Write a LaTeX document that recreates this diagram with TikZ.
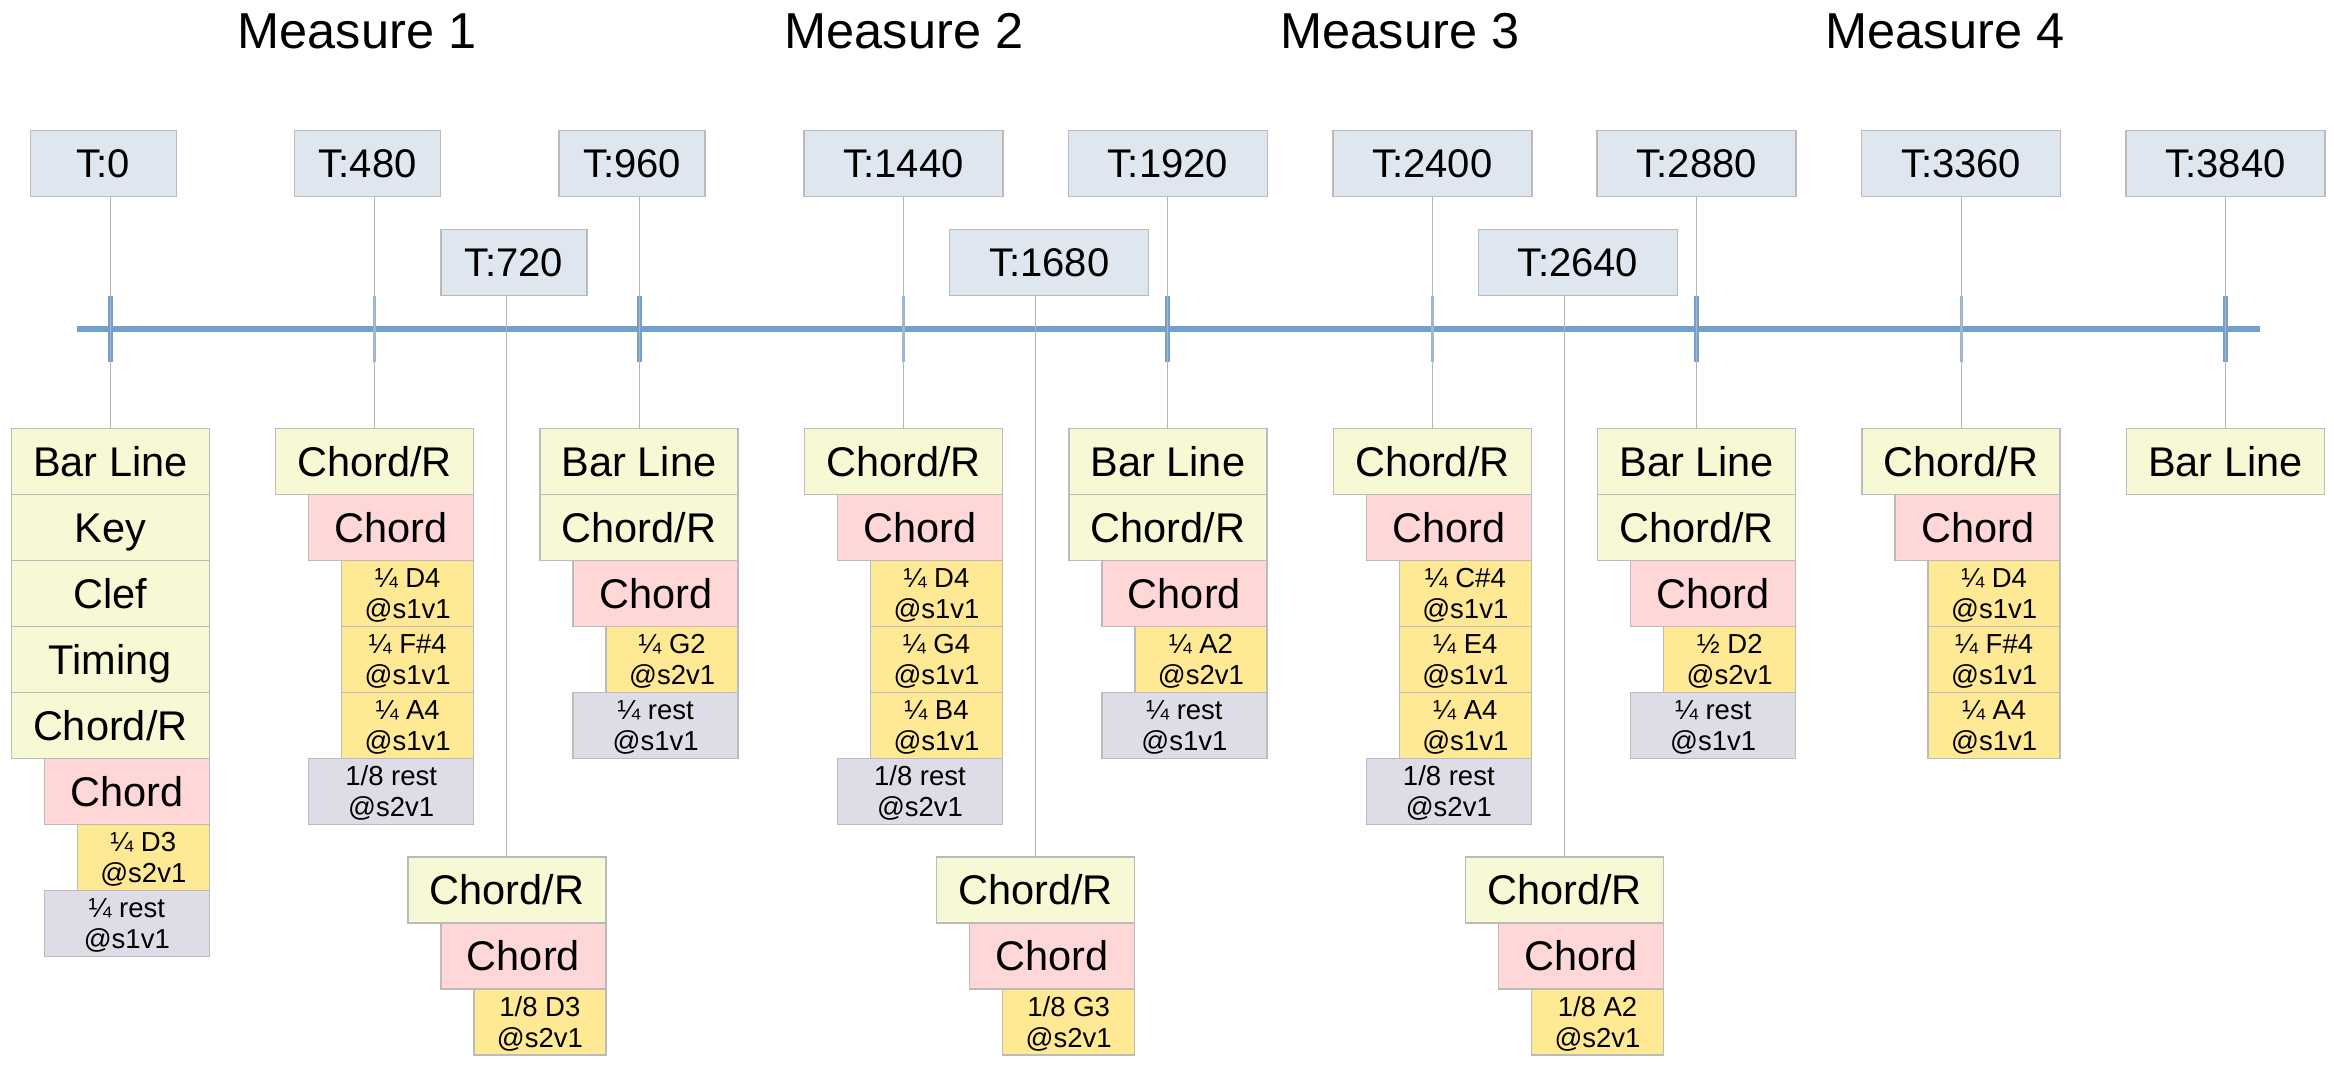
\documentclass[tikz,border=0pt]{standalone}
\usepackage{fontspec}
\setmainfont{Liberation Sans}
\definecolor{tbfill}{HTML}{DEE6EF}
\definecolor{ctrlfill}{HTML}{F6F9D4}
\definecolor{chordfill}{HTML}{FFD7D7}
\definecolor{notefill}{HTML}{FFE994}
\definecolor{restfill}{HTML}{DEDCE6}
\definecolor{bordergray}{HTML}{BBBBBB}
\definecolor{conngray}{HTML}{B5B5B5}
\definecolor{lineblue}{HTML}{729FCF}
\newcommand\one[1]{\makebox[0pt]{\raisebox{-14.8pt}[0pt][0pt]{#1}}}
\newcommand\tlab[1]{\makebox[0pt]{\raisebox{-14.3pt}[0pt][0pt]{#1}}}
\newcommand\two[2]{\makebox[0pt]{\raisebox{6pt}[0pt][0pt]{#1}}\makebox[0pt]{\raisebox{-25pt}[0pt][0pt]{#2}}}
\newcommand\cell[6]{\node[#2, minimum width={198pt-#4pt}] (#1) at ({#3+#4/2},{#5}) {#6};}
\begin{document}
\begin{tikzpicture}[x=1pt,y=-1pt,
  boxbase/.style={draw=bordergray, line width=1.5pt, inner sep=0pt, outer sep=0pt,
    minimum height=66pt, text height=0pt, text depth=0pt},
  big/.style={font=\fontsize{41.5pt}{50pt}\selectfont},
  tfont/.style={font=\fontsize{40pt}{48pt}\selectfont},
  small/.style={font=\fontsize{27.5pt}{31pt}\selectfont},
  tbox/.style={boxbase, tfont, fill=tbfill},
  ctrl/.style={boxbase, big, fill=ctrlfill},
  chord/.style={boxbase, big, fill=chordfill},
  note/.style={boxbase, small, fill=notefill},
  rest/.style={boxbase, small, fill=restfill},
  measure/.style={font=\fontsize{50.5pt}{60pt}\selectfont, anchor=base, inner sep=0pt},
  conn/.style={draw=conngray, line width=1.1pt},
  timeline/.style={draw=lineblue, line width=5.3pt},
  barticks/.style={draw=lineblue, line width=5pt},
  beatticks/.style={draw=lineblue!75!white, line width=3pt}
]
\useasboundingbox (0,0) rectangle (2334,1070);

% measure titles
\node[measure] (m1) at (357,48.5) {Measure 1};
\node[measure] (m2) at (904,48.5) {Measure 2};
\node[measure] (m3) at (1400,48.5) {Measure 3};
\node[measure] (m4) at (1945,48.5) {Measure 4};

% time boxes
\node[tbox, minimum width=146pt] (t0)    at (103.3,163.5) {\tlab{T:0}};
\node[tbox, minimum width=146pt] (t480)  at (367.7,163.5) {\tlab{T:480}};
\node[tbox, minimum width=146pt] (t960)  at (632.1,163.5) {\tlab{T:960}};
\node[tbox, minimum width=199pt] (t1440) at (903.5,163.5) {\tlab{T:1440}};
\node[tbox, minimum width=199pt] (t1920) at (1167.9,163.5) {\tlab{T:1920}};
\node[tbox, minimum width=199pt] (t2400) at (1432.3,163.5) {\tlab{T:2400}};
\node[tbox, minimum width=199pt] (t2880) at (1696.7,163.5) {\tlab{T:2880}};
\node[tbox, minimum width=199pt] (t3360) at (1961.1,163.5) {\tlab{T:3360}};
\node[tbox, minimum width=199pt] (t3840) at (2225.5,163.5) {\tlab{T:3840}};
\node[tbox, minimum width=146pt] (t720)  at (513.9,262.3) {\tlab{T:720}};
\node[tbox, minimum width=199pt] (t1680) at (1049.2,262.3) {\tlab{T:1680}};
\node[tbox, minimum width=199pt] (t2640) at (1578.0,262.3) {\tlab{T:2640}};

% timeline
\draw[timeline] (77,329) -- (2260,329);
\foreach \c in {110.3,639.1,1167.9,1696.7,2225.5} \draw[barticks] (\c,296) -- (\c,362);
\foreach \c in {374.7,903.5,1432.3,1961.1} \draw[beatticks] (\c,296) -- (\c,362);

% T:0
\cell{s0a}{ctrl}{110.3}{0}{461.5}{\one{Bar Line}}
\cell{s0b}{ctrl}{110.3}{0}{527.5}{\one{Key}}
\cell{s0c}{ctrl}{110.3}{0}{593.5}{\one{Clef}}
\cell{s0d}{ctrl}{110.3}{0}{659.5}{\one{Timing}}
\cell{s0e}{ctrl}{110.3}{0}{725.5}{\one{Chord/R}}
\cell{s0f}{chord}{110.3}{33}{791.5}{\one{Chord}}
\cell{s0g}{note}{110.3}{66}{857.5}{\two{¼ D3}{@s2v1}}
\cell{s0h}{rest}{110.3}{33}{923.5}{\two{¼ rest}{@s1v1}}
% T:480
\cell{s480a}{ctrl}{374.7}{0}{461.5}{\one{Chord/R}}
\cell{s480b}{chord}{374.7}{33}{527.5}{\one{Chord}}
\cell{s480c}{note}{374.7}{66}{593.5}{\two{¼ D4}{@s1v1}}
\cell{s480d}{note}{374.7}{66}{659.5}{\two{¼ F\#4}{@s1v1}}
\cell{s480e}{note}{374.7}{66}{725.5}{\two{¼ A4}{@s1v1}}
\cell{s480f}{rest}{374.7}{33}{791.5}{\two{1/8 rest}{@s2v1}}
% T:720
\cell{s720a}{ctrl}{506.9}{0}{890}{\one{Chord/R}}
\cell{s720b}{chord}{506.9}{33}{956}{\one{Chord}}
\cell{s720c}{note}{506.9}{66}{1022}{\two{1/8 D3}{@s2v1}}
% T:960
\cell{s960a}{ctrl}{639.1}{0}{461.5}{\one{Bar Line}}
\cell{s960b}{ctrl}{639.1}{0}{527.5}{\one{Chord/R}}
\cell{s960c}{chord}{639.1}{33}{593.5}{\one{Chord}}
\cell{s960d}{note}{639.1}{66}{659.5}{\two{¼ G2}{@s2v1}}
\cell{s960e}{rest}{639.1}{33}{725.5}{\two{¼ rest}{@s1v1}}
% T:1440
\cell{s1440a}{ctrl}{903.5}{0}{461.5}{\one{Chord/R}}
\cell{s1440b}{chord}{903.5}{33}{527.5}{\one{Chord}}
\cell{s1440c}{note}{903.5}{66}{593.5}{\two{¼ D4}{@s1v1}}
\cell{s1440d}{note}{903.5}{66}{659.5}{\two{¼ G4}{@s1v1}}
\cell{s1440e}{note}{903.5}{66}{725.5}{\two{¼ B4}{@s1v1}}
\cell{s1440f}{rest}{903.5}{33}{791.5}{\two{1/8 rest}{@s2v1}}
% T:1680
\cell{s1680a}{ctrl}{1035.7}{0}{890}{\one{Chord/R}}
\cell{s1680b}{chord}{1035.7}{33}{956}{\one{Chord}}
\cell{s1680c}{note}{1035.7}{66}{1022}{\two{1/8 G3}{@s2v1}}
% T:1920
\cell{s1920a}{ctrl}{1167.9}{0}{461.5}{\one{Bar Line}}
\cell{s1920b}{ctrl}{1167.9}{0}{527.5}{\one{Chord/R}}
\cell{s1920c}{chord}{1167.9}{33}{593.5}{\one{Chord}}
\cell{s1920d}{note}{1167.9}{66}{659.5}{\two{¼ A2}{@s2v1}}
\cell{s1920e}{rest}{1167.9}{33}{725.5}{\two{¼ rest}{@s1v1}}
% T:2400
\cell{s2400a}{ctrl}{1432.3}{0}{461.5}{\one{Chord/R}}
\cell{s2400b}{chord}{1432.3}{33}{527.5}{\one{Chord}}
\cell{s2400c}{note}{1432.3}{66}{593.5}{\two{¼ C\#4}{@s1v1}}
\cell{s2400d}{note}{1432.3}{66}{659.5}{\two{¼ E4}{@s1v1}}
\cell{s2400e}{note}{1432.3}{66}{725.5}{\two{¼ A4}{@s1v1}}
\cell{s2400f}{rest}{1432.3}{33}{791.5}{\two{1/8 rest}{@s2v1}}
% T:2640
\cell{s2640a}{ctrl}{1564.5}{0}{890}{\one{Chord/R}}
\cell{s2640b}{chord}{1564.5}{33}{956}{\one{Chord}}
\cell{s2640c}{note}{1564.5}{66}{1022}{\two{1/8 A2}{@s2v1}}
% T:2880
\cell{s2880a}{ctrl}{1696.7}{0}{461.5}{\one{Bar Line}}
\cell{s2880b}{ctrl}{1696.7}{0}{527.5}{\one{Chord/R}}
\cell{s2880c}{chord}{1696.7}{33}{593.5}{\one{Chord}}
\cell{s2880d}{note}{1696.7}{66}{659.5}{\two{½ D2}{@s2v1}}
\cell{s2880e}{rest}{1696.7}{33}{725.5}{\two{¼ rest}{@s1v1}}
% T:3360
\cell{s3360a}{ctrl}{1961.1}{0}{461.5}{\one{Chord/R}}
\cell{s3360b}{chord}{1961.1}{33}{527.5}{\one{Chord}}
\cell{s3360c}{note}{1961.1}{66}{593.5}{\two{¼ D4}{@s1v1}}
\cell{s3360d}{note}{1961.1}{66}{659.5}{\two{¼ F\#4}{@s1v1}}
\cell{s3360e}{note}{1961.1}{66}{725.5}{\two{¼ A4}{@s1v1}}
% T:3840
\cell{s3840a}{ctrl}{2225.5}{0}{461.5}{\one{Bar Line}}

% connectors
\foreach \k in {0,480,720,960,1440,1680,1920,2400,2640,2880,3360,3840}
  \draw[conn] (t\k.south -| s\k a.north) -- (s\k a.north);
\end{tikzpicture}
\end{document}
